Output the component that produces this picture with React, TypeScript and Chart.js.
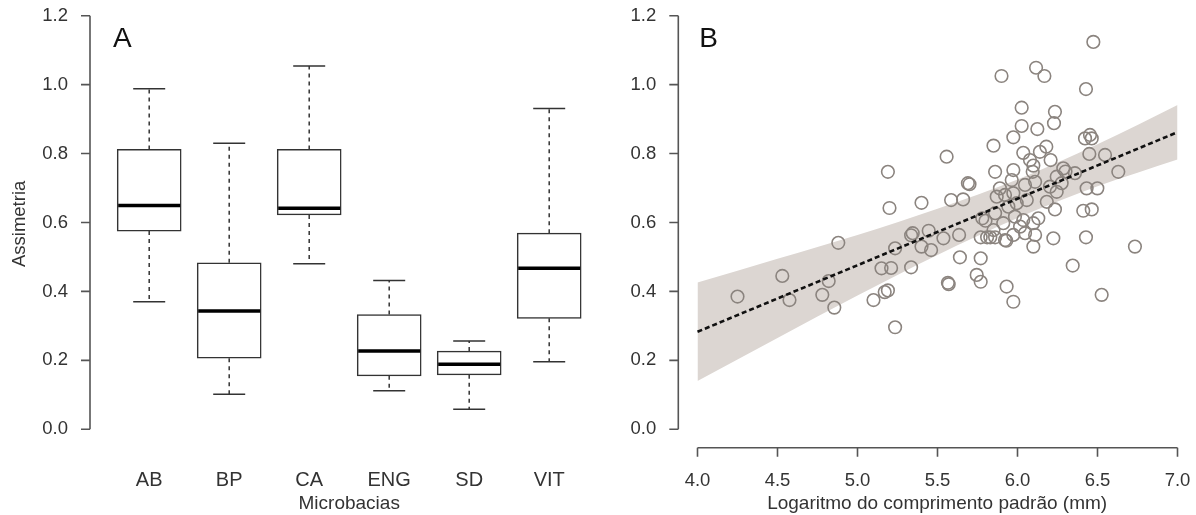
import React, { useEffect, useRef } from 'react';
import { Chart, registerables } from 'chart.js';

Chart.register(...registerables);

// ---------- Panel A: box plot data ----------
const categories = ['AB', 'BP', 'CA', 'ENG', 'SD', 'VIT'];
const whiskerLow = [0.370, 0.102, 0.480, 0.112, 0.058, 0.196];
const quartile1 = [0.575, 0.206, 0.622, 0.155, 0.158, 0.322];
const medians = [0.649, 0.343, 0.641, 0.227, 0.189, 0.467];
const quartile3 = [0.812, 0.483, 0.812, 0.333, 0.227, 0.569];
const whiskerHigh = [0.988, 0.830, 1.054, 0.432, 0.256, 0.931];

// ---------- shared tick labels ----------
const yTicks = [0.0, 0.2, 0.4, 0.6, 0.8, 1.0, 1.2];
const xTicksB = [4.0, 4.5, 5.0, 5.5, 6.0, 6.5, 7.0];

// ---------- Panel B: scatter data ----------
const lengthX = [
  4.25, 4.53, 4.575, 4.78, 4.82, 4.855, 4.88, 5.10, 5.15, 5.21,
  5.17, 5.19, 5.19, 5.20, 5.235, 5.235, 5.335, 5.345, 5.335, 5.40,
  5.40, 5.445, 5.46, 5.537, 5.557, 5.565, 5.57, 5.585, 5.635, 5.64,
  5.66, 5.69, 5.70, 5.745, 5.77, 5.77, 5.77, 5.78, 5.80, 5.83,
  5.85, 5.86, 5.85, 5.86, 5.86, 5.87, 5.89, 5.90, 5.911, 5.922,
  5.922, 5.932, 5.943, 5.964, 5.974, 5.974, 5.974, 5.974, 5.974, 5.984,
  5.995, 6.016, 6.026, 6.026, 6.036, 6.036, 6.047, 6.047, 6.058, 6.078,
  6.095, 6.099, 6.099, 6.099, 6.11, 6.11, 6.116, 6.124, 6.13, 6.14,
  6.168, 6.18, 6.183, 6.203, 6.207, 6.224, 6.228, 6.234, 6.234, 6.245,
  6.245, 6.276, 6.286, 6.30, 6.345, 6.359, 6.411, 6.422, 6.428, 6.428,
  6.432, 6.449, 6.453, 6.464, 6.464, 6.474, 6.499, 6.526, 6.547, 6.63,
  6.734, 5.93, 5.81,
];
const asymY = [
  0.385, 0.445, 0.375, 0.390, 0.430, 0.353, 0.541, 0.375, 0.467, 0.468,
  0.398, 0.403, 0.747, 0.642, 0.296, 0.525, 0.470, 0.569, 0.563, 0.657,
  0.530, 0.576, 0.520, 0.554, 0.791, 0.425, 0.421, 0.665, 0.564, 0.499,
  0.667, 0.714, 0.711, 0.448, 0.428, 0.496, 0.557, 0.612, 0.605, 0.557,
  0.823, 0.747, 0.578, 0.627, 0.557, 0.675, 0.699, 1.025, 0.598, 0.680,
  0.549, 0.414, 0.646, 0.723, 0.847, 0.752, 0.685, 0.564, 0.370, 0.617,
  0.656, 0.588, 0.933, 0.880, 0.802, 0.607, 0.709, 0.569, 0.665, 0.781,
  0.747, 0.765, 0.598, 0.530, 0.718, 0.564, 1.049, 0.871, 0.612, 0.805,
  1.025, 0.820, 0.660, 0.704, 0.781, 0.554, 0.888, 0.921, 0.638, 0.733,
  0.689, 0.714, 0.757, 0.748, 0.475, 0.743, 0.634, 0.844, 0.987, 0.557,
  0.699, 0.799, 0.854, 0.844, 0.638, 1.124, 0.699, 0.390, 0.796, 0.747,
  0.530, 0.547, 0.557,
];
const fitX = [4.0, 7.0];
const fitY = [0.283, 0.862];
const bandX = [4.0, 4.5, 5.0, 5.5, 6.0, 6.5, 7.0];
const bandUpper = [0.426, 0.495, 0.564, 0.640, 0.725, 0.827, 0.941];
const bandLower = [0.140, 0.265, 0.388, 0.506, 0.613, 0.705, 0.783];

// ---------- styling ----------
const FONT = "'Liberation Sans', Arial, Helvetica, sans-serif";
const TEXT = '#333333';
const AXIS = '#555555';
const H = 515;
const Y_MIN = -0.0534;
const Y_MAX = 1.2455;
const X_SCALE_H = 67.3;

const zeroPad = (s: any) => {
  s.paddingTop = 0;
  s.paddingBottom = 0;
  s.paddingLeft = 0;
  s.paddingRight = 0;
};

const rAxesPlugin = {
  id: 'rAxes',
  afterDraw(chart: any, _args: any, opts: any) {
    const { ctx, chartArea } = chart;
    const xs = chart.scales.x;
    const ys = chart.scales.y;
    ctx.save();
    ctx.strokeStyle = AXIS;
    ctx.lineWidth = 1.6;
    ctx.setLineDash([]);
    const ax = chartArea.left;
    ctx.beginPath();
    ctx.moveTo(ax, ys.getPixelForValue(yTicks[yTicks.length - 1]));
    ctx.lineTo(ax, ys.getPixelForValue(yTicks[0]));
    yTicks.forEach((v) => {
      const p = ys.getPixelForValue(v);
      ctx.moveTo(ax - 9, p);
      ctx.lineTo(ax, p);
    });
    ctx.stroke();
    if (opts.xTicks) {
      const by = chartArea.bottom;
      ctx.beginPath();
      ctx.moveTo(xs.getPixelForValue(opts.xTicks[0]), by);
      ctx.lineTo(xs.getPixelForValue(opts.xTicks[opts.xTicks.length - 1]), by);
      opts.xTicks.forEach((v: number) => {
        const p = xs.getPixelForValue(v);
        ctx.moveTo(p, by);
        ctx.lineTo(p, by + 9);
      });
      ctx.stroke();
    }
    ctx.fillStyle = '#111111';
    ctx.font = `28px ${FONT}`;
    ctx.textBaseline = 'alphabetic';
    ctx.textAlign = 'left';
    ctx.fillText(opts.letter, chartArea.left + opts.letterDx, 47);
    ctx.restore();
  },
};

const boxPlugin = {
  id: 'boxParts',
  afterDatasetsDraw(chart: any) {
    const { ctx } = chart;
    const xs = chart.scales.x;
    const ys = chart.scales.y;
    ctx.save();
    categories.forEach((_, i) => {
      const cx = xs.getPixelForValue(i + 1);
      ctx.strokeStyle = '#333333';
      ctx.lineWidth = 1.5;
      ctx.setLineDash([4, 4]);
      ctx.beginPath();
      ctx.moveTo(cx, ys.getPixelForValue(quartile3[i]));
      ctx.lineTo(cx, ys.getPixelForValue(whiskerHigh[i]));
      ctx.moveTo(cx, ys.getPixelForValue(quartile1[i]));
      ctx.lineTo(cx, ys.getPixelForValue(whiskerLow[i]));
      ctx.stroke();
      ctx.setLineDash([]);
      ctx.beginPath();
      const hi = ys.getPixelForValue(whiskerHigh[i]);
      const lo = ys.getPixelForValue(whiskerLow[i]);
      ctx.moveTo(cx - 16, hi);
      ctx.lineTo(cx + 16, hi);
      ctx.moveTo(cx - 16, lo);
      ctx.lineTo(cx + 16, lo);
      ctx.stroke();
      ctx.strokeStyle = '#000000';
      ctx.lineWidth = 3.5;
      ctx.beginPath();
      const m = ys.getPixelForValue(medians[i]);
      ctx.moveTo(cx - 31, m);
      ctx.lineTo(cx + 31, m);
      ctx.stroke();
    });
    ctx.restore();
  },
};

const yScale = (withTitle: boolean, width: number) => ({
  type: 'linear',
  min: Y_MIN,
  max: Y_MAX,
  grid: { display: false, drawTicks: false },
  border: { display: false },
  afterBuildTicks: (s: any) => {
    s.ticks = yTicks.map((v) => ({ value: v }));
  },
  afterFit: (s: any) => {
    s.width = width;
    zeroPad(s);
  },
  ticks: {
    autoSkip: false,
    callback: (v: any) => Number(v).toFixed(1),
    font: { family: FONT, size: 18.5 },
    color: TEXT,
    padding: 22,
  },
  title: {
    display: withTitle,
    text: 'Assimetria',
    font: { family: FONT, size: 18.5 },
    color: TEXT,
    padding: { top: 9, bottom: 0 },
  },
});

export default function App() {
  const leftRef = useRef<HTMLCanvasElement | null>(null);
  const rightRef = useRef<HTMLCanvasElement | null>(null);

  useEffect(() => {
    const left = new Chart(leftRef.current as HTMLCanvasElement, {
      type: 'bar',
      data: {
        datasets: [
          {
            type: 'bar',
            data: categories.map((_, i) => ({ x: i + 1, y: [quartile1[i], quartile3[i]] })) as any,
            backgroundColor: '#ffffff',
            borderColor: '#333333',
            borderWidth: 1.5,
            borderSkipped: false,
            barThickness: 64,
          } as any,
        ],
      },
      options: {
        responsive: false,
        animation: false,
        events: [],
        layout: { autoPadding: false, padding: { left: 0, right: 1.6, top: 0, bottom: 0 } },
        plugins: {
          legend: { display: false },
          tooltip: { enabled: false },
          rAxes: { letter: 'A', letterDx: 23 },
        } as any,
        scales: {
          x: {
            type: 'linear',
            min: 0.26,
            max: 6.74,
            offset: false,
            grid: { display: false, drawTicks: false },
            border: { display: false },
            afterBuildTicks: (s: any) => {
              s.ticks = categories.map((_, i) => ({ value: i + 1 }));
            },
            afterFit: (s: any) => {
              s.height = X_SCALE_H;
              zeroPad(s);
            },
            ticks: {
              autoSkip: false,
              maxRotation: 0,
              callback: (v: any) => categories[Math.round(Number(v)) - 1],
              font: { family: FONT, size: 20 },
              color: TEXT,
              padding: 20.7,
            },
            title: {
              display: true,
              text: 'Microbacias',
              font: { family: FONT, size: 19 },
              color: TEXT,
              padding: { top: 0, bottom: 0 },
            },
          } as any,
          y: yScale(true, 90) as any,
        },
      },
      plugins: [rAxesPlugin, boxPlugin],
    });

    const right = new Chart(rightRef.current as HTMLCanvasElement, {
      type: 'scatter',
      data: {
        datasets: [
          {
            type: 'line',
            data: fitX.map((x, i) => ({ x, y: fitY[i] })),
            borderColor: '#111111',
            borderWidth: 2.6,
            borderDash: [5, 3],
            pointRadius: 0,
            fill: false,
            order: 0,
          } as any,
          {
            type: 'scatter',
            data: lengthX.map((x, i) => ({ x, y: asymY[i] })),
            pointRadius: 6.3,
            pointBorderWidth: 1.6,
            pointBorderColor: '#8b847f',
            pointBackgroundColor: 'rgba(0,0,0,0)',
            order: 1,
          } as any,
          {
            type: 'line',
            data: bandX.map((x, i) => ({ x, y: bandUpper[i] })),
            borderWidth: 0,
            borderColor: 'rgba(0,0,0,0)',
            backgroundColor: '#dcd6d2',
            pointRadius: 0,
            fill: '+1',
            cubicInterpolationMode: 'monotone',
            order: 2,
          } as any,
          {
            type: 'line',
            data: bandX.map((x, i) => ({ x, y: bandLower[i] })),
            borderWidth: 0,
            borderColor: 'rgba(0,0,0,0)',
            pointRadius: 0,
            fill: false,
            cubicInterpolationMode: 'monotone',
            order: 3,
          } as any,
        ],
      },
      options: {
        responsive: false,
        animation: false,
        events: [],
        layout: { autoPadding: false, padding: 0 },
        plugins: {
          legend: { display: false },
          tooltip: { enabled: false },
          rAxes: { letter: 'B', letterDx: 21, xTicks: xTicksB },
        } as any,
        scales: {
          x: {
            type: 'linear',
            min: 3.88,
            max: 7.1156,
            grid: { display: false, drawTicks: false },
            border: { display: false },
            afterBuildTicks: (s: any) => {
              s.ticks = xTicksB.map((v) => ({ value: v }));
            },
            afterFit: (s: any) => {
              s.height = X_SCALE_H;
              zeroPad(s);
            },
            ticks: {
              autoSkip: false,
              maxRotation: 0,
              callback: (v: any) => Number(v).toFixed(1),
              font: { family: FONT, size: 18.5 },
              color: TEXT,
              padding: 22.1,
            },
            title: {
              display: true,
              text: 'Logaritmo do comprimento padrão (mm)',
              font: { family: FONT, size: 19 },
              color: TEXT,
              padding: { top: 0, bottom: 0 },
            },
          } as any,
          y: yScale(false, 78.3) as any,
        },
      },
      plugins: [rAxesPlugin],
    });

    return () => {
      left.destroy();
      right.destroy();
    };
  }, []);

  return (
    <div
      style={{
        position: 'fixed',
        left: 0,
        top: 0,
        width: 1196,
        height: H,
        background: '#ffffff',
        overflow: 'hidden',
      }}
    >
      <canvas
        ref={leftRef}
        width={610}
        height={H}
        style={{ position: 'absolute', left: 0, top: 0, width: 610, height: H }}
      />
      <canvas
        ref={rightRef}
        width={596}
        height={H}
        style={{ position: 'absolute', left: 600, top: 0, width: 596, height: H }}
      />
    </div>
  );
}
